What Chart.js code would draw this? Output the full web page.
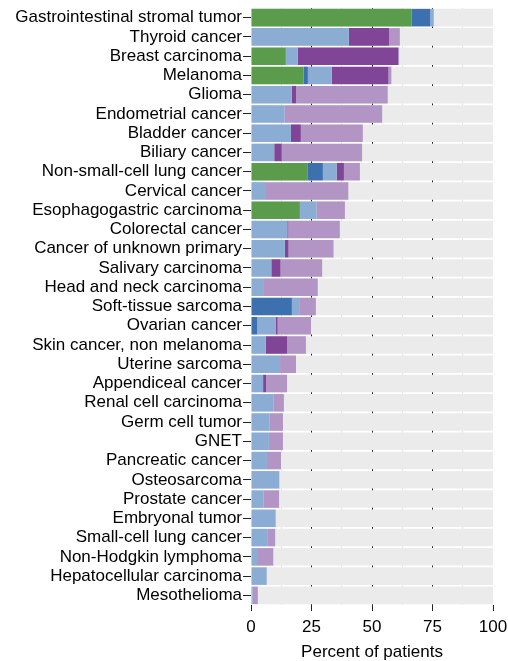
<!DOCTYPE html>
<html><head><meta charset="utf-8">
<script src="https://cdn.jsdelivr.net/npm/chart.js@4.4.1/dist/chart.umd.min.js"></script>
<style>html,body{margin:0;padding:0;background:#fff}#wrap{width:508px;height:661px}</style>
</head><body><div id="wrap"><canvas id="c" width="508" height="661"></canvas></div>
<script>
const categories = ["Gastrointestinal stromal tumor","Thyroid cancer","Breast carcinoma","Melanoma","Glioma","Endometrial cancer","Bladder cancer","Biliary cancer","Non-small-cell lung cancer","Cervical cancer","Esophagogastric carcinoma","Colorectal cancer","Cancer of unknown primary","Salivary carcinoma","Head and neck carcinoma","Soft-tissue sarcoma","Ovarian cancer","Skin cancer, non melanoma","Uterine sarcoma","Appendiceal cancer","Renal cell carcinoma","Germ cell tumor","GNET","Pancreatic cancer","Osteosarcoma","Prostate cancer","Embryonal tumor","Small-cell lung cancer","Non-Hodgkin lymphoma","Hepatocellular carcinoma","Mesothelioma"];
const greenSeries      = [66.3,0,14.4,21.7,0,0,0,0,23.5,0,20.2,0,0,0,0,0,0,0,0,0,0,0,0,0,0,0,0,0,0,0,0];
const darkBlueSeries   = [7.7,0,0,1.8,0,0,0,0,6.2,0,0,0,0,0,0,16.9,2.5,0,0,0,0,0,0,0,0,0,0,0,0,0,0];
const lightBlueSeries  = [1.5,40.4,4.9,9.9,16.8,13.9,16.5,9.6,5.7,6.2,6.9,15.0,14.0,8.4,5.0,3.0,7.8,6.1,12.0,5.0,9.4,7.7,7.4,6.6,11.7,5.2,10.2,6.7,2.5,6.5,0.7];
const darkPurpleSeries = [0,16.7,41.5,23.4,1.8,0,4.1,3.1,3.0,0,0,0.4,1.5,3.8,0,0,0.7,8.8,0,1.2,0,0,0,0,0,0,0,0,0,0,0];
const lightPurpleSeries= [0,4.4,0.4,1.2,37.9,40.3,25.6,33.2,6.6,34.0,11.7,21.3,18.6,17.2,22.6,6.9,13.8,7.8,6.6,8.7,4.2,5.5,5.8,5.8,0,6.4,0,3.3,6.7,0,2.1];
const backgroundSeries = categories.map(() => 100);
const xTickValues = [0,25,50,75,100];

const FONT = {family: "'Liberation Sans', Arial, sans-serif", size: 17};
const isMajor = v => Math.abs(v % 25) < 1e-6;

const mk = (label, data, color) => ({label, data, backgroundColor: color, stack: 'main', borderWidth: 0, barPercentage: 1, categoryPercentage: 0.91});

new Chart(document.getElementById('c'), {
  type: 'bar',
  data: {
    labels: categories,
    datasets: [
      mk('Green', greenSeries, '#5a9c4b'),
      mk('Dark blue', darkBlueSeries, '#3d70ae'),
      mk('Light blue', lightBlueSeries, '#8badd3'),
      mk('Dark purple', darkPurpleSeries, '#814597'),
      mk('Light purple', lightPurpleSeries, '#b294c5'),
      {label: 'bg', data: backgroundSeries, backgroundColor: '#ebebeb', stack: 'bg', grouped: false, borderWidth: 0, barPercentage: 1, categoryPercentage: 0.91}
    ]
  },
  options: {
    indexAxis: 'y',
    responsive: false,
    animation: false,
    devicePixelRatio: 1,
    layout: {padding: {left: 0, right: 15, top: 8, bottom: 0}},
    plugins: {legend: {display: false}, tooltip: {enabled: false}},
    scales: {
      x: {
        stacked: true,
        min: 0, max: 100,
        afterBuildTicks: s => { const t = []; for (let v = 0; v <= 100; v += 12.5) t.push({value: v}); s.ticks = t; },
        ticks: {
          autoSkip: false, maxRotation: 0, padding: 6, color: '#000', font: FONT,
          callback: v => xTickValues.includes(v) ? String(v) : ''
        },
        border: {display: false},
        grid: {
          lineWidth: 1,
          tickLength: 6,
          color: c => { const v = c.tick.value; if (v === 0 || v === 100) return 'rgba(0,0,0,0)'; return isMajor(v) ? '#222' : '#e3e3e3'; },
          tickColor: c => isMajor(c.tick.value) ? '#222' : 'rgba(0,0,0,0)'
        },
        title: {display: true, text: 'Percent of patients', color: '#000', font: FONT, padding: {top: 2, bottom: -2}},
        afterFit: s => { s.height = 56; s.paddingRight = 0; s.paddingLeft = 0; }
      },
      y: {
        stacked: true,
        ticks: {autoSkip: false, padding: 1, color: '#000', font: FONT},
        border: {display: false},
        grid: {drawOnChartArea: false, offset: false, tickLength: 8, tickColor: '#222', lineWidth: 1},
        afterFit: s => { s.width = 251; s.paddingTop = 0; s.paddingBottom = 0; }
      }
    }
  }
});
</script>
</body></html>
